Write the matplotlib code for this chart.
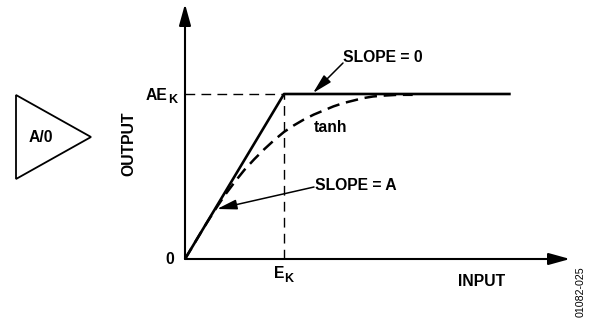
import matplotlib
matplotlib.use("Agg")
import matplotlib.pyplot as plt
from matplotlib.patches import Polygon

plt.rcParams['font.family'] = ['Liberation Sans', 'DejaVu Sans']

# values in units of E_K (input) and AE_K (output)
ideal_x = [0, 1, 3.29]
ideal_y = [0, 1, 1]
tanh_x = [0, .1, .2, .3, .4, .5, .6, .7, .8, .9, 1, 1.1, 1.2, 1.3, 1.4, 1.5, 1.6, 1.7, 1.8, 1.9, 2.0, 2.15, 2.3]
tanh_y = [0, .10, .20, .295, .385, .465, .54, .605, .665, .72, .77, .81, .845, .875, .90, .925, .945, .96, .975, .985, .99, .995, .995]
ek_x = [1, 1]
ek_y = [0, 1]
aek_x = [0, 1]
aek_y = [1, 1]

W, H = 594, 322
X0, Y0 = 185, 259      # pixel position of the origin
XS, YS = 99, 165       # pixels per unit


def dx(px):
    return (px - X0) / XS


def dy(py):
    return (Y0 - py) / YS


fig = plt.figure(figsize=(W / 100, H / 100), dpi=100)
ax = fig.add_axes([0, 0, 1, 1])
ax.set_xlim(dx(0), dx(W))
ax.set_ylim(dy(H), dy(0))
ax.axis('off')

# thin dashed guides
ax.plot(ek_x, ek_y, color='black', lw=1.0, dashes=(7, 4.5))
ax.plot(aek_x, aek_y, color='black', lw=1.0, dashes=(7, 4.5))

# curves
ax.plot(ideal_x, ideal_y, color='black', lw=1.9, solid_capstyle='butt')
ax.plot(tanh_x, tanh_y, color='black', lw=1.8, dashes=(5, 2.7))

# axes with arrow heads
head = dict(arrowstyle='-|>,head_length=1.3,head_width=0.36', color='black', lw=1.5,
            shrinkA=0, shrinkB=0, mutation_scale=10)
ax.annotate('', xy=(0, dy(4)), xytext=(0, 0), arrowprops=head)
ax.annotate('', xy=(dx(570), 0), xytext=(0, 0), arrowprops=head)

# callout arrows
call = dict(arrowstyle='-|>,head_length=1.2,head_width=0.3', color='black', lw=1.1,
            shrinkA=0, shrinkB=0, mutation_scale=10)
ax.annotate('', xy=(dx(313), dy(93)), xytext=(dx(343), dy(63)), arrowprops=call)
ax.annotate('', xy=(dx(217), dy(209)), xytext=(dx(314), dy(187)), arrowprops=call)

# amplifier symbol
tri_x = [16, 91, 16]
tri_y = [95, 137, 179]
ax.add_patch(Polygon([(dx(a), dy(b)) for a, b in zip(tri_x, tri_y)], closed=True,
                     fill=False, edgecolor='black', lw=1.3))

bold = dict(fontweight='bold', color='black', fontsize=11.3)
sub = dict(fontweight='bold', color='black', fontsize=9)
ax.text(dx(41), dy(138), 'A/0', ha='center', va='center', **bold)
ax.text(dx(129), dy(144), 'OUTPUT', ha='center', va='center', rotation=90, **bold)
ax.text(dx(146), dy(95), 'AE', ha='left', va='center', **bold)
ax.text(dx(168), dy(100), 'K', ha='left', va='center', **sub)
ax.text(dx(170), dy(259), '0', ha='center', va='center', **bold)
ax.text(dx(274), dy(274), 'E', ha='left', va='center', **bold)
ax.text(dx(284), dy(279), 'K', ha='left', va='center', **sub)
ax.text(dx(343), dy(57), 'SLOPE = 0', ha='left', va='center', **bold)
ax.text(dx(314), dy(127), 'tanh', ha='left', va='center', **bold)
ax.text(dx(315), dy(185), 'SLOPE = A', ha='left', va='center', **bold)
ax.text(dx(458), dy(281), 'INPUT', ha='left', va='center', **bold)
ax.text(dx(581), dy(292), '01082-025', ha='center', va='center', rotation=90,
        fontsize=7.7, color='black')

fig.savefig('out.png', dpi=100)
